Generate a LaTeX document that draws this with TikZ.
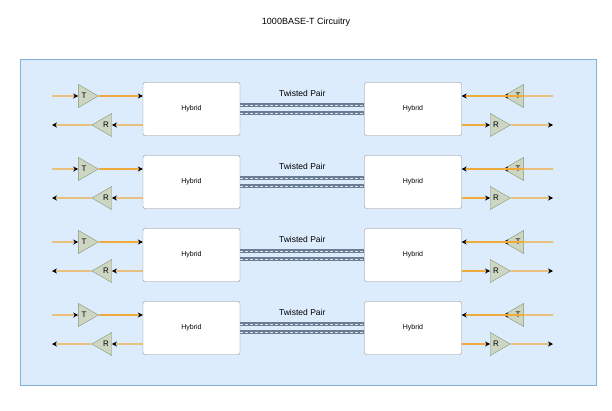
\documentclass[tikz,border=0pt]{standalone}
\usepackage{fontspec}
\setmainfont{Liberation Sans}
\usetikzlibrary{shapes.geometric, arrows.meta, positioning, calc}
\definecolor{panelfill}{RGB}{221,236,252}
\definecolor{paneldraw}{RGB}{130,175,220}
\definecolor{ampfill}{RGB}{205,214,195}
\definecolor{ampdraw}{RGB}{135,150,115}
\definecolor{wire}{RGB}{240,170,60}
\definecolor{twist}{RGB}{105,125,150}

\begin{document}
\begin{tikzpicture}[x=1pt, y=-1pt,
    hybrid/.style={draw=black!45, fill=white, rounded corners=2pt,
      minimum width=97pt, minimum height=53pt, font=\fontsize{7pt}{9pt}\selectfont},
    amp/.style={isosceles triangle, isosceles triangle apex angle=60, draw=ampdraw,
      fill=ampfill, inner sep=1.2pt, minimum height=20pt, font=\fontsize{8pt}{10pt}\selectfont},
    signal/.style={draw=wire, line width=1.4pt, -{Stealth[black, length=5pt, width=5pt]}},
    pair/.style={draw=twist, line width=3.4pt}]
  \useasboundingbox (0,0) rectangle (612,410);
  % Title and panel
  \node[font=\fontsize{9pt}{11pt}\selectfont] (title) at (306,22) {1000BASE-T Circuitry};
  \draw[paneldraw, fill=panelfill] (20,59) rectangle (596,385);

  \foreach \i/\y in {1/109, 2/182, 3/255, 4/328} {
    % Hybrids
    \node[hybrid] (hl\i) at (191.5,\y) {Hybrid};
    \node[hybrid] (hr\i) at (413,\y) {Hybrid};
    % Amplifiers
    \node[amp, shape border rotate=0] (tl\i) at (84,\y-13) {T};
    \node[amp, shape border rotate=180] (rl\i) at (106,\y+16) {R};
    \node[amp, shape border rotate=180] (tr\i) at (518,\y-13) {T};
    \node[amp, shape border rotate=0] (rr\i) at (496,\y+16) {R};
    % Free ends
    \coordinate (al\i) at (52,\y-13); \coordinate (bl\i) at (52,\y+16);
    \coordinate (ar\i) at (553,\y-13); \coordinate (br\i) at (553,\y+16);
    % Signal lines
    \draw[signal] (al\i) -- (tl\i.west);
    \draw[signal] (tl\i.east) -- (tl\i.east -| hl\i.west);
    \draw[signal] (rl\i.west -| hl\i.west) -- (rl\i.east);
    \draw[signal] (rl\i.west) -- (bl\i);
    \draw[signal] (ar\i) -- (tr\i.west);
    \draw[signal] (tr\i.east) -- (tr\i.east -| hr\i.east);
    \draw[signal] (rr\i.west -| hr\i.east) -- (rr\i.west);
    \draw[signal] (rr\i.east) -- (br\i);
    % Twisted pair
    \foreach \d in {-4,4} {
      \draw[pair] ([yshift=\d pt]hl\i.east) -- ([yshift=\d pt]hr\i.west);
      \draw[white!80!twist, line width=1pt, dash pattern=on 2.5pt off 2.5pt]
        ([yshift=\d pt]hl\i.east) -- ([yshift=\d pt]hr\i.west);
    }
    \node[font=\fontsize{8.5pt}{10pt}\selectfont, above=9pt] (tp\i) at ($(hl\i.east)!.5!(hr\i.west)$) {Twisted Pair};
  }
\end{tikzpicture}
\end{document}
